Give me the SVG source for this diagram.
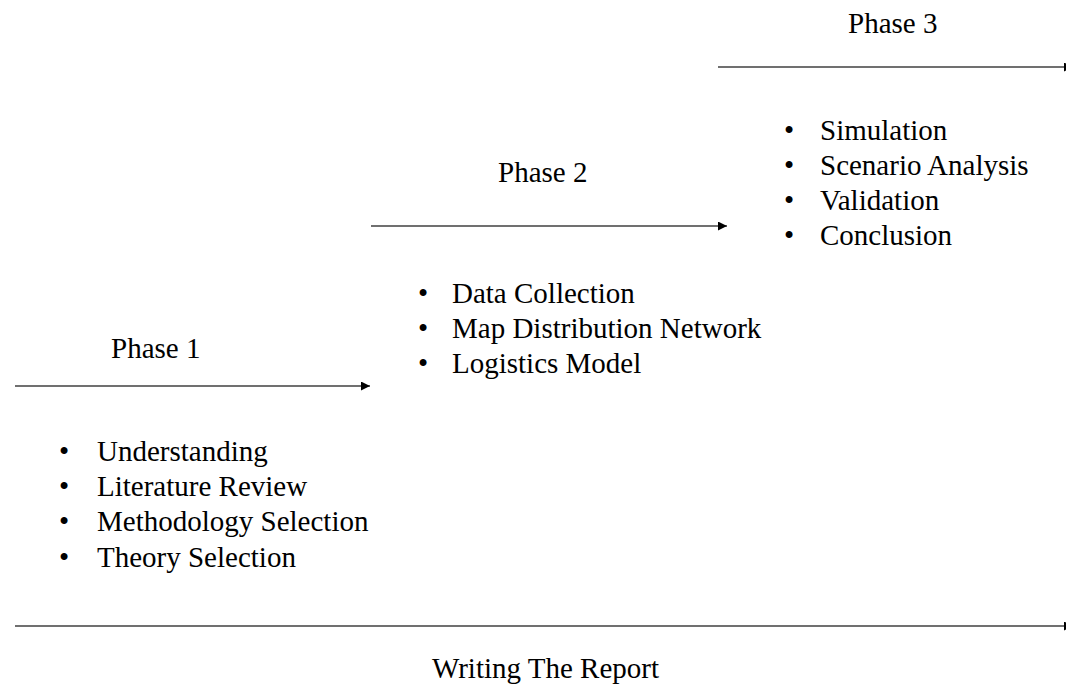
<svg xmlns="http://www.w3.org/2000/svg" width="1066" height="686" viewBox="0 0 1066 686">
  <style>
    .lbl { font-family: "Liberation Serif", "Times New Roman", serif; font-size: 29px; fill: #000; }
    .item { font-family: "Liberation Serif", "Times New Roman", serif; font-size: 29px; fill: #000; }
    .line { stroke: #404040; stroke-width: 1.5; fill: none; }
  </style>
  <defs>
    <marker id="head" viewBox="0 0 10 10" refX="10" refY="5" markerWidth="10" markerHeight="9" markerUnits="userSpaceOnUse" orient="auto">
      <path d="M0,0 L10,5 L0,10 Z" fill="#000"/>
    </marker>
  </defs>
  <rect width="1066" height="686" fill="#fff"/>

  <!-- timeline arrows -->
  <g id="connectors">
    <line class="line" x1="15" y1="386" x2="370" y2="386" marker-end="url(#head)"/>
    <line class="line" x1="371" y1="226" x2="727" y2="226" marker-end="url(#head)"/>
    <line class="line" x1="718" y1="67" x2="1073" y2="67" marker-end="url(#head)"/>
    <line class="line" x1="15" y1="626" x2="1073" y2="626" marker-end="url(#head)"/>
  </g>

  <g id="phase1">
    <text class="lbl" x="111" y="358">Phase 1</text>
    <text class="item" x="59" y="461">•</text><text class="item" x="97" y="461">Understanding</text>
    <text class="item" x="59" y="496">•</text><text class="item" x="97" y="496">Literature Review</text>
    <text class="item" x="59" y="531">•</text><text class="item" x="97" y="531">Methodology Selection</text>
    <text class="item" x="59" y="567">•</text><text class="item" x="97" y="567">Theory Selection</text>
  </g>

  <g id="phase2">
    <text class="lbl" x="498" y="182">Phase 2</text>
    <text class="item" x="418" y="303">•</text><text class="item" x="452" y="303">Data Collection</text>
    <text class="item" x="418" y="338">•</text><text class="item" x="452" y="338">Map Distribution Network</text>
    <text class="item" x="418" y="373">•</text><text class="item" x="452" y="373">Logistics Model</text>
  </g>

  <g id="phase3">
    <text class="lbl" x="848" y="33">Phase 3</text>
    <text class="item" x="784" y="140">•</text><text class="item" x="820" y="140">Simulation</text>
    <text class="item" x="784" y="175">•</text><text class="item" x="820" y="175">Scenario Analysis</text>
    <text class="item" x="784" y="210">•</text><text class="item" x="820" y="210">Validation</text>
    <text class="item" x="784" y="245">•</text><text class="item" x="820" y="245">Conclusion</text>
  </g>

  <g id="report">
    <text class="lbl" x="432" y="678">Writing The Report</text>
  </g>
</svg>
